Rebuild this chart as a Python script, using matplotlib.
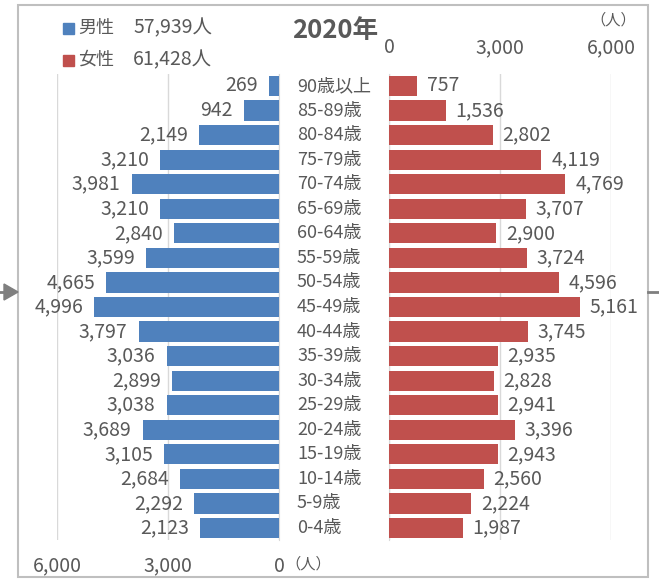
import numpy as np
import matplotlib
matplotlib.use("Agg")
import matplotlib.pyplot as plt
from matplotlib.patches import Rectangle, Polygon
from matplotlib.lines import Line2D

plt.rcParams['font.family'] = ['Noto Sans CJK JP', 'DejaVu Sans']

# data, listed from the top row down
ages = ['90歳以上', '85-89歳', '80-84歳', '75-79歳', '70-74歳', '65-69歳', '60-64歳',
        '55-59歳', '50-54歳', '45-49歳', '40-44歳', '35-39歳', '30-34歳', '25-29歳',
        '20-24歳', '15-19歳', '10-14歳', '5-9歳', '0-4歳']
male = [269, 942, 2149, 3210, 3981, 3210, 2840, 3599, 4665, 4996,
        3797, 3036, 2899, 3038, 3689, 3105, 2684, 2292, 2123]
female = [757, 1536, 2802, 4119, 4769, 3707, 2900, 3724, 4596, 5161,
          3745, 2935, 2828, 2941, 3396, 2943, 2560, 2224, 1987]
ticks = [0, 3000, 6000]
tick_labels = ['0', '3,000', '6,000']
total_male = '57,939人'
total_female = '61,428人'
title = '2020年'

blue = '#4F81BD'
red = '#C0504D'
txt = '#595959'
grid = '#D9D9D9'

W, H = 659, 579
fig = plt.figure(figsize=(W / 100, H / 100), dpi=100)

def fx(px):
    return px / W

def fy(py):
    return 1 - py / H

y = np.arange(len(ages))
ax_bot = fy(540.3)
ax_h = fy(73.7) - ax_bot
axL = fig.add_axes([fx(57), ax_bot, fx(279) - fx(57), ax_h])
axR = fig.add_axes([fx(389), ax_bot, fx(611) - fx(389), ax_h])

for ax, vals, col in [(axL, male, blue), (axR, female, red)]:
    ax.barh(y, vals, height=0.82, color=col, zorder=3)
    ax.set_xlim(0, 6000)
    ax.set_ylim(len(ages) - 0.5, -0.5)
    ax.set_xticks(ticks)
    ax.set_xticklabels(tick_labels, fontsize=14, color=txt)
    ax.set_yticks([])
    ax.grid(axis='x', color=grid, lw=1, zorder=0)
    for s in ax.spines.values():
        s.set_visible(False)
    ax.tick_params(axis='x', length=0, pad=11)

axL.invert_xaxis()
axL.tick_params(axis='x', labelbottom=True, labeltop=False)
axR.tick_params(axis='x', labeltop=True, labelbottom=False)
axL.spines['right'].set_visible(True)
axL.spines['right'].set_color(grid)
axR.spines['left'].set_visible(True)
axR.spines['left'].set_color(grid)

for i, v in enumerate(male):
    axL.annotate(f'{v:,}', (v, i), xytext=(-8, 0), textcoords='offset points',
                 ha='right', va='center', fontsize=14, color=txt)
for i, v in enumerate(female):
    axR.annotate(f'{v:,}', (v, i), xytext=(7, 0), textcoords='offset points',
                 ha='left', va='center', fontsize=14, color=txt)
for i, a in enumerate(ages):
    axL.annotate(a, (0, i), xytext=(297 - 279, 0), textcoords='offset pixels',
                 ha='left', va='center', fontsize=13, color=txt,
                 annotation_clip=False)

# title, legend, units
fig.text(fx(335), fy(31), title, ha='center', va='center', fontsize=18.5,
         fontweight='bold', color=txt)
for yy, col, lab, tot in [(28, blue, '男性', total_male), (60, red, '女性', total_female)]:
    fig.patches.append(Rectangle((fx(63), fy(yy + 5.5)), fx(11), 11 / H,
                                 transform=fig.transFigure, color=col))
    fig.text(fx(78), fy(yy), lab, ha='left', va='center', fontsize=13, color=txt)
    fig.text(fx(133), fy(yy), tot, ha='left', va='center', fontsize=14, color=txt)
fig.text(fx(613), fy(20), '（人）', ha='center', va='center', fontsize=11, color=txt)
fig.text(fx(285), fy(564), '（人）', ha='left', va='center', fontsize=11, color=txt)

# frame and side markers
fig.patches.append(Rectangle((fx(18), fy(577)), fx(648) - fx(18), fy(5) - fy(577),
                             transform=fig.transFigure, fill=False,
                             edgecolor='#BFBFBF', lw=1.5))
fig.patches.append(Polygon([(fx(4), fy(284)), (fx(18), fy(292)), (fx(4), fy(300))],
                           closed=True, transform=fig.transFigure,
                           color='#7F7F7F'))
fig.lines.append(Line2D([fx(0), fx(5)], [fy(292), fy(292)],
                        transform=fig.transFigure, color='#7F7F7F', lw=2))
fig.lines.append(Line2D([fx(648), fx(659)], [fy(292), fy(292)],
                        transform=fig.transFigure, color='#7F7F7F', lw=2))

fig.savefig('out.png', dpi=100)
